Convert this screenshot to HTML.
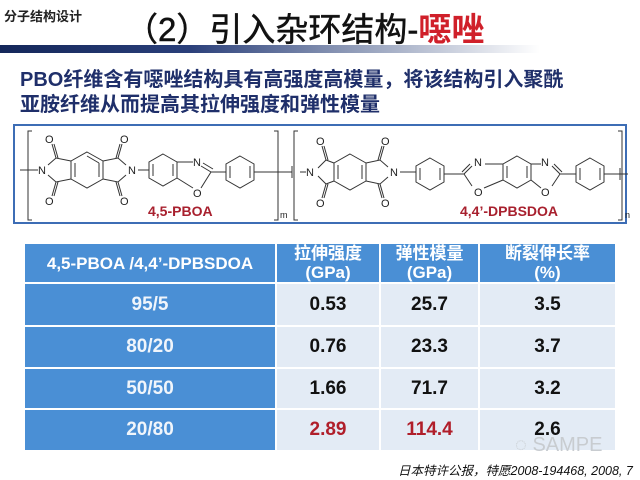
<!DOCTYPE html>
<html><head><meta charset="utf-8"><style>
body{margin:0;width:640px;height:480px;background:#fff;position:relative;overflow:hidden;font-family:"Liberation Sans","Noto Sans CJK SC",sans-serif}
.a{position:absolute;white-space:nowrap}
table{position:absolute;left:23px;top:242px;border-collapse:collapse;table-layout:fixed}
td{text-align:center;font-weight:bold;font-size:19px;padding:0;border:2px solid #fff}
td.h{background:#4a8fd5;color:#fff;font-size:17px;line-height:19px}
td.f{background:#4a8fd5;color:#f0f5fb}
td.d{background:#e3ebf5;color:#111}
</style></head><body>
<div class="a" style="left:4px;top:6px;font-size:13px;font-weight:bold;color:#222">分子结构设计</div>
<div class="a" style="left:125px;top:3px;font-size:33px;color:#111;-webkit-text-stroke:0.5px #111">（2）引入杂环结构-<span style="color:#d0202a;font-weight:bold;-webkit-text-stroke:0">噁唑</span></div>
<div class="a" style="left:0;top:45px;width:540px;height:8px;background:linear-gradient(to right,#14275a 0%,#2a3f7a 35%,#8f9bb8 65%,#fff 100%)"></div>
<div class="a" style="left:20px;top:68px;font-size:20px;font-weight:bold;color:#1f2f6a;line-height:25px">PBO纤维含有噁唑结构具有高强度高模量，将该结构引入聚酰<br>亚胺纤维从而提高其拉伸强度和弹性模量</div>
<div class="a" style="left:13px;top:124px;width:610px;height:96px;border:2px solid #3d6db5"></div>
<svg class="a" style="left:0;top:0" width="640" height="240" font-family="Liberation Sans" font-size="12" fill="none" stroke="#333" stroke-width="1">
<g>
<path d="M32 131 H28 V220 H32 M274 131 H278 V220 H274 M298 131 H294 V220 H298 M618 131 H622 V220 H618"/>
<path d="M20 170 H38 M48 165 L56 158 L71 161 M48 175 L56 182 L71 179 M56 158 L52 144 M58 158 L54 144 M56 182 L52 196 M58 182 L54 196"/>
<polygon points="87,152 103,161 103,179 87,188 71,179 71,161"/>
<path d="M75 163 V177 M99 163 V177 M87 156 L99 163"/>
<path d="M103 161 L118 158 L126 165 M103 179 L118 182 L126 175 M118 158 L122 144 M116 158 L120 144 M118 182 L122 196 M116 182 L120 196 M138 170 L149 170"/>
<polygon points="163,154 177,162 177,178 163,186 149,178 149,162"/>
<path d="M153 164 V176 M173 164 V176"/>
<path d="M177 162 L193 162 M177 178 L193 188 M201 166 L211 172 M203 163 L213 169 M201 188 L211 172 M211 172 L226 172"/>
<polygon points="240,156 254,164 254,180 240,188 226,180 226,164"/>
<path d="M230 166 V178 M250 166 V178"/>
<path d="M254 172 L292 172 M292 166 V178 M300 172 H306 M318 168 L326 160 L334 163 M318 176 L326 184 L334 181 M326 160 L322 146 M328 160 L324 146 M326 184 L322 198 M328 184 L324 198"/>
<polygon points="350,154 366,163 366,181 350,190 334,181 334,163"/>
<path d="M338 165 V179 M362 165 V179"/>
<path d="M366 163 L380 160 L388 167 M366 181 L380 184 L388 177 M380 160 L384 146 M378 160 L382 146 M380 184 L384 198 M378 184 L382 198 M400 172 L416 172"/>
<polygon points="430,158 444,166 444,182 430,190 416,182 416,166"/>
<path d="M420 168 V180 M440 168 V180"/>
<path d="M444 174 L464 174 M472 166 L464 174 L472 186 M470 164 L462 172 M485 164 L503 164 M484 188 L503 180"/>
<polygon points="517,156 531,164 531,180 517,188 503,180 503,164"/>
<path d="M507 166 V178 M527 166 V178"/>
<path d="M531 164 L541 164 M531 180 L541 188 M552 166 L560 174 L552 186 M554 164 L562 172 M560 174 L576 174"/>
<polygon points="590,158 604,166 604,182 590,190 576,182 576,166"/>
<path d="M580 168 V180 M600 168 V180"/>
<path d="M604 174 L628 174 M620 168 V180"/>
</g>
<g fill="#222" stroke="none" font-size="11">
<text x="38" y="174">N</text><text x="128" y="174">N</text>
<text x="45" y="143">O</text><text x="45" y="205">O</text><text x="120" y="143">O</text><text x="120" y="205">O</text>
<text x="193" y="166">N</text><text x="193" y="197">O</text>
<text x="306" y="176">N</text><text x="390" y="176">N</text>
<text x="316" y="145">O</text><text x="316" y="207">O</text><text x="381" y="145">O</text><text x="381" y="207">O</text>
<text x="474" y="166">N</text><text x="474" y="196">O</text><text x="541" y="166">N</text><text x="541" y="196">O</text>
<text x="280" y="218" font-size="9">m</text><text x="625" y="218" font-size="9">n</text>
</g>
<g fill="#a8202e" stroke="none" font-weight="bold" font-size="14">
<text x="148" y="216">4,5-PBOA</text><text x="460" y="216">4,4’-DPBSDOA</text>
</g>
</svg>
<table>
<colgroup><col style="width:252px"><col style="width:104px"><col style="width:99px"><col style="width:137px"></colgroup>
<tr style="height:40px"><td class="h">4,5-PBOA /4,4’-DPBSDOA</td><td class="h">拉伸强度<br>(GPa)</td><td class="h">弹性模量<br>(GPa)</td><td class="h">断裂伸长率<br>(%)</td></tr>
<tr style="height:43px"><td class="f">95/5</td><td class="d">0.53</td><td class="d">25.7</td><td class="d">3.5</td></tr>
<tr style="height:42px"><td class="f">80/20</td><td class="d">0.76</td><td class="d">23.3</td><td class="d">3.7</td></tr>
<tr style="height:41px"><td class="f">50/50</td><td class="d">1.66</td><td class="d">71.7</td><td class="d">3.2</td></tr>
<tr style="height:42px"><td class="f">20/80</td><td class="d" style="color:#b01e2a">2.89</td><td class="d" style="color:#b01e2a">114.4</td><td class="d">2.6</td></tr>
</table>
<div class="a" style="left:515px;top:434px;font-size:20px;color:#c8ccd0">◌ SAMPE</div>
<div class="a" style="left:398px;top:460px;font-size:12.5px;font-style:italic;color:#111">日本特许公报，特愿2008-194468, 2008, 7</div>
</body></html>
